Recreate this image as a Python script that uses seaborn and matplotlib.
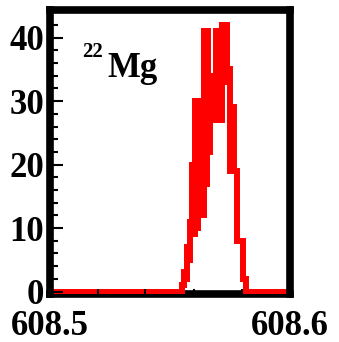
import numpy as np
import pandas as pd
import matplotlib
matplotlib.use("Agg")
import matplotlib.pyplot as plt
from matplotlib.ticker import MultipleLocator
import seaborn as sns

# Fine-binned mass spectrum: 160 bins across 608.5-608.6
x_range = (608.5, 608.6)
n_bins = 160
first_filled_bin = 88
counts_peak = [1, 1, 3, 2, 7, 5, 11, 20, 9, 30, 10, 30, 12, 30, 12, 41,
               17, 41, 22, 34, 27, 34, 27, 41, 27, 41, 27, 42, 33, 42, 35,
               35, 19, 29, 29, 19, 19, 8, 8, 8, 8, 2, 2]
x_ticks = [608.5, 608.6]
x_tick_labels = ["608.5", "608.6"]
y_ticks = [0, 10, 20, 30, 40]
y_limits = (-0.39, 44.36)
isotope_mass = "22"
isotope_symbol = "Mg"

bin_width = (x_range[1] - x_range[0]) / n_bins
counts = np.zeros(n_bins)
counts[first_filled_bin:first_filled_bin + len(counts_peak)] = counts_peak
centers = x_range[0] + (np.arange(n_bins) + 0.5) * bin_width
df = pd.DataFrame({"mass": centers, "counts": counts})

sns.set_style("white")
plt.rcParams["font.family"] = ["Liberation Serif", "DejaVu Serif"]
plt.rcParams["font.weight"] = "bold"
for key in ("text.color", "axes.labelcolor", "xtick.color", "ytick.color"):
    plt.rcParams[key] = "black"

fig = plt.figure(figsize=(3.39, 3.42), dpi=100)
ax = fig.add_axes([49.5 / 339, 48 / 342, 240 / 339, 284 / 342])

sns.histplot(data=df, x="mass", weights="counts", bins=n_bins,
             binrange=x_range, element="step", fill=False, color="red",
             linewidth=4.3, solid_joinstyle="miter", ax=ax)

ax.set_xlim(*x_range)
ax.set_ylim(*y_limits)
ax.set_xlabel("")
ax.set_ylabel("")

ax.set_xticks(x_ticks)
ax.set_xticklabels(x_tick_labels)
ax.xaxis.set_minor_locator(MultipleLocator(0.02))
ax.set_yticks(y_ticks)
ax.yaxis.set_minor_locator(MultipleLocator(2))

ax.set_axisbelow(False)
ax.tick_params(axis="both", which="both", direction="in", top=False,
               right=False, bottom=True, left=True, color="black",
               width=1.5, labelsize=25, labelcolor="black")
ax.tick_params(axis="y", which="major", length=9, pad=4.0)
ax.tick_params(axis="y", which="minor", length=5.4)
ax.tick_params(axis="x", which="major", length=9, pad=11.5)
ax.tick_params(axis="x", which="minor", length=3.5)

for name, spine in ax.spines.items():
    spine.set_visible(True)
    spine.set_color("black")
    spine.set_linewidth(5.5)
ax.spines["bottom"].set_zorder(1.5)

ax.text(0.138, 0.836, isotope_mass, transform=ax.transAxes, fontsize=15,
        fontweight="bold", va="baseline", ha="left", color="black")
ax.text(0.242, 0.764, isotope_symbol, transform=ax.transAxes, fontsize=25,
        fontweight="bold", va="baseline", ha="left", color="black")

fig.savefig("out.png", dpi=100)
